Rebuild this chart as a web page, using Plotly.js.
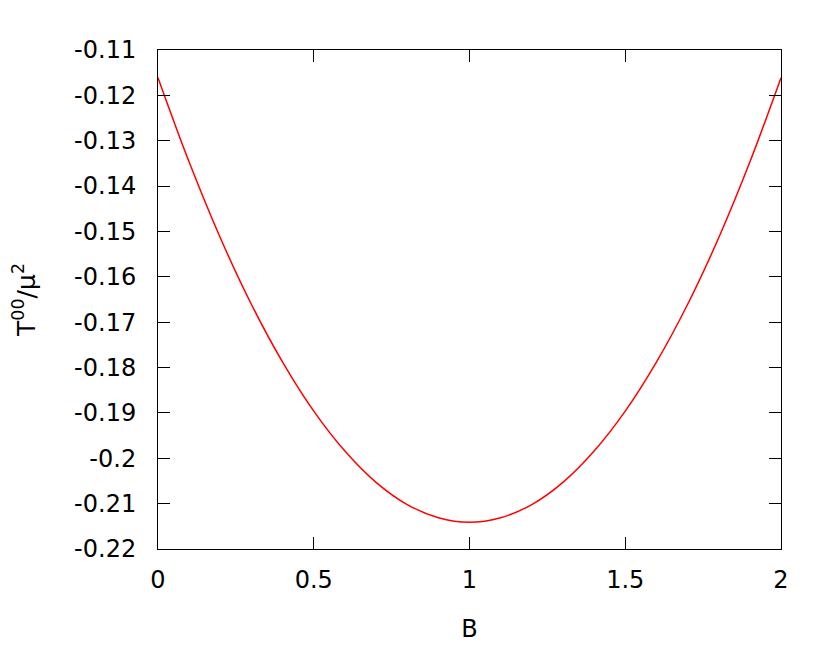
<!DOCTYPE html>
<html>
<head>
<meta charset="utf-8">
<script src="https://cdn.plot.ly/plotly-3.0.1.min.js"></script>
<style>html,body{margin:0;padding:0;background:#fff;}#chart{width:830px;height:662px;}</style>
</head>
<body>
<div id="chart"></div>
<script>
const B = [0, 0.1, 0.2, 0.3, 0.4, 0.5, 0.6, 0.7, 0.8, 0.9, 1.0, 1.1, 1.2, 1.3, 1.4, 1.5, 1.6, 1.7, 1.8, 1.9, 2.0];
const T00 = [-0.1161, -0.1347, -0.1514, -0.1661, -0.1788, -0.1896, -0.1984, -0.2053, -0.2102, -0.2131, -0.2141,
             -0.2131, -0.2102, -0.2053, -0.1984, -0.1896, -0.1788, -0.1661, -0.1514, -0.1347, -0.1161];
const xTickVals = [0, 0.5, 1, 1.5, 2];
const xTickText = ["0", "0.5", "1", "1.5", "2"];
const yTickVals = [-0.11, -0.12, -0.13, -0.14, -0.15, -0.16, -0.17, -0.18, -0.19, -0.2, -0.21, -0.22];
const yTickText = ["-0.11", "-0.12", "-0.13", "-0.14", "-0.15", "-0.16", "-0.17", "-0.18", "-0.19", "-0.2", "-0.21", "-0.22"];

const font = {family: "DejaVu Sans", size: 24, color: "#000"};
const trace = {
  x: B, y: T00, type: "scatter", mode: "lines",
  line: {color: "#ff0000", width: 1.5, shape: "spline", smoothing: 1}
};
const axisCommon = {
  showgrid: false, zeroline: false, showline: true, linecolor: "#000", linewidth: 1,
  mirror: "allticks", ticks: "inside", ticklen: 12, tickcolor: "#000", tickwidth: 1,
  tickfont: font
};
const layout = {
  width: 830, height: 662,
  margin: {l: 158, r: 49, t: 50, b: 113},
  paper_bgcolor: "#fff", plot_bgcolor: "#fff",
  showlegend: false,
  font: font,
  xaxis: Object.assign({}, axisCommon, {
    range: [0, 2], tickmode: "array", tickvals: xTickVals, ticktext: xTickText,
    ticklabelstandoff: 9,
    title: {text: "B", font: font, standoff: 27}
  }),
  yaxis: Object.assign({}, axisCommon, {
    range: [-0.22, -0.11], tickmode: "array", tickvals: yTickVals, ticktext: yTickText,
    ticklabelstandoff: 16,
    title: {text: "T<sup>00</sup>/μ<sup>2</sup>", font: {family: "DejaVu Sans", size: 25, color: "#000"}, standoff: 31}
  })
};
Plotly.newPlot("chart", [trace], layout, {staticPlot: true, displayModeBar: false});
</script>
</body>
</html>
